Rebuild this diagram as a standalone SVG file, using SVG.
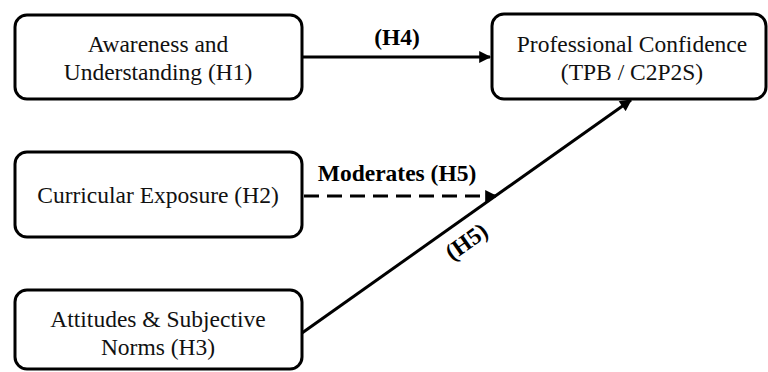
<svg xmlns="http://www.w3.org/2000/svg" width="768" height="372" viewBox="0 0 768 372">
  <style>
    .box { fill: #ffffff; stroke: #000000; stroke-width: 3; }
    .label { font-family: "Liberation Serif", "Times New Roman", serif; font-size: 23.5px; fill: #111111; text-anchor: middle; }
    .edge-label { font-family: "Liberation Serif", "Times New Roman", serif; font-size: 23.5px; font-weight: bold; fill: #000000; text-anchor: middle; }
    .edge { fill: none; stroke: #000000; stroke-width: 3; }
    .dashed { stroke-dasharray: 15 8; }
  </style>
  <defs>
    <marker id="arrow" viewBox="0 0 10 10" refX="9" refY="5" markerWidth="4.5" markerHeight="4" orient="auto" markerUnits="strokeWidth">
      <path d="M0,0 L10,5 L0,10 z" fill="#000000"/>
    </marker>
  </defs>

  <g id="edges">
    <line class="edge" x1="302" y1="57" x2="490" y2="57" marker-end="url(#arrow)"/>
    <line class="edge dashed" x1="304" y1="196" x2="496" y2="196" marker-end="url(#arrow)"/>
    <line class="edge" x1="302" y1="333" x2="631" y2="100" marker-end="url(#arrow)"/>
    <text class="edge-label" x="397" y="45">(H4)</text>
    <text class="edge-label" x="397" y="181">Moderates (H5)</text>
    <text class="edge-label" transform="translate(471,248) rotate(-35.3)">(H5)</text>
  </g>

  <g id="awareness">
    <rect class="box" x="15" y="15" width="287" height="84" rx="12"/>
    <text class="label" x="158" y="52">Awareness and</text>
    <text class="label" x="158" y="80">Understanding (H1)</text>
  </g>

  <g id="confidence">
    <rect class="box" x="492" y="14" width="274" height="85" rx="12"/>
    <text class="label" x="632" y="52">Professional Confidence</text>
    <text class="label" x="632" y="80">(TPB / C2P2S)</text>
  </g>

  <g id="curricular">
    <rect class="box" x="15" y="152" width="287" height="85" rx="12"/>
    <text class="label" x="158" y="203">Curricular Exposure (H2)</text>
  </g>

  <g id="attitudes">
    <rect class="box" x="15" y="290" width="287" height="79" rx="12"/>
    <text class="label" x="158" y="327">Attitudes &amp; Subjective</text>
    <text class="label" x="158" y="355">Norms (H3)</text>
  </g>
</svg>
